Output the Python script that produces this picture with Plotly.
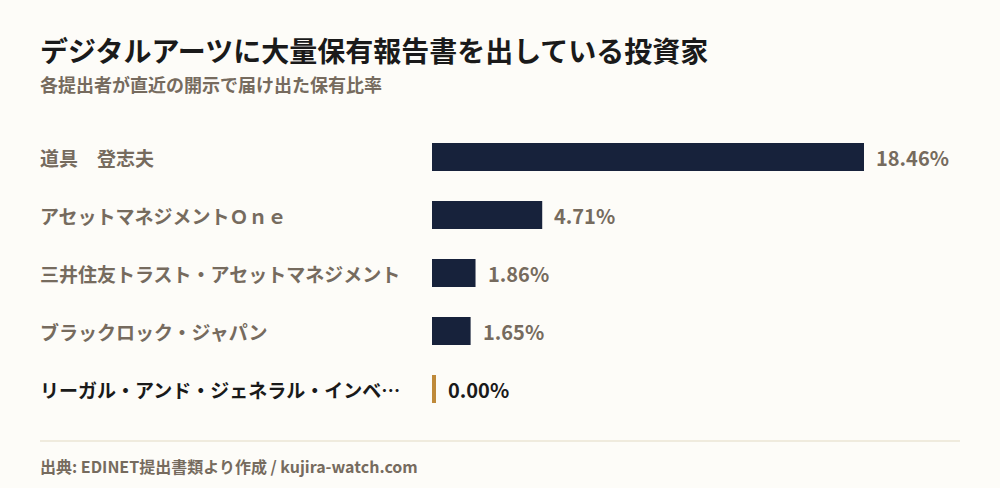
import plotly.graph_objects as go

# holders and their latest reported ratios (%)
holders = [
    '道具　登志夫',
    'アセットマネジメントＯｎｅ',
    '三井住友トラスト・アセットマネジメント',
    'ブラックロック・ジャパン',
    'リーガル・アンド・ジェネラル・インベ…',
]
ratios = [18.46, 4.71, 1.86, 1.65, 0.00]
highlight = [False, False, False, False, True]

BG = '#fdfcf8'
NAVY = '#17223b'
GOLD = '#bf8a3a'
GRAY = '#766b5e'
DARK = '#1a1a1a'
FONT = 'Noto Sans CJK JP'

# tiny sliver so a zero still shows up
shown = [max(v, 0.17) for v in ratios]
ypos = list(range(len(holders)))

fig = go.Figure()
fig.add_trace(go.Bar(
    x=shown, y=ypos, orientation='h',
    width=0.483,
    marker=dict(color=[GOLD if h else NAVY for h in highlight], line=dict(width=0)),
    hoverinfo='skip',
))

for i, (name, v, s, h) in enumerate(zip(holders, ratios, shown, highlight)):
    col = DARK if h else GRAY
    fig.add_annotation(x=0.04, xref='paper', y=i, yref='y', text='<b>%s</b>' % name,
                       showarrow=False, xanchor='left', yanchor='middle', xshift=-2,
                       font=dict(size=19, color=col, family=FONT))
    fig.add_annotation(x=s, y=i, text='<b>%.2f%%</b>' % v,
                       showarrow=False, xanchor='left', yanchor='middle', xshift=10,
                       font=dict(size=20, color=col, family=FONT))

fig.add_annotation(x=0.04, xref='paper', y=1 - 50 / 488, yref='paper',
                   text='<b>デジタルアーツに大量保有報告書を出している投資家</b>',
                   showarrow=False, xanchor='left', yanchor='middle', xshift=-2,
                   font=dict(size=28, color=DARK, family=FONT))
fig.add_annotation(x=0.04, xref='paper', y=1 - 84 / 488, yref='paper',
                   text='<b>各提出者が直近の開示で届け出た保有比率</b>',
                   showarrow=False, xanchor='left', yanchor='middle', xshift=-2,
                   font=dict(size=18, color=GRAY, family=FONT))
fig.add_annotation(x=0.04, xref='paper', y=1 - 466 / 488, yref='paper',
                   text='<b>出典: EDINET提出書類より作成 / kujira-watch.com</b>',
                   showarrow=False, xanchor='left', yanchor='middle', xshift=-2,
                   font=dict(size=16, color=GRAY, family=FONT))
fig.add_shape(type='line', xref='paper', yref='paper',
              x0=0.04, x1=0.96, y0=1 - 441 / 488, y1=1 - 441 / 488,
              line=dict(color='#e2dac3', width=1))

fig.update_layout(
    width=1000, height=488,
    margin=dict(l=0, r=0, t=0, b=0),
    paper_bgcolor=BG, plot_bgcolor=BG,
    showlegend=False,
    xaxis=dict(domain=[0.432, 1.0], range=[0, 18.46 * 568 / 432], visible=False, fixedrange=True),
    yaxis=dict(range=[4 + 99 / 58, -157 / 58], visible=False, fixedrange=True),
    font=dict(family=FONT),
)

fig.write_html('out.html', config={'displayModeBar': False},
               post_script="document.body.style.margin='0';document.body.style.background='%s';" % BG)
